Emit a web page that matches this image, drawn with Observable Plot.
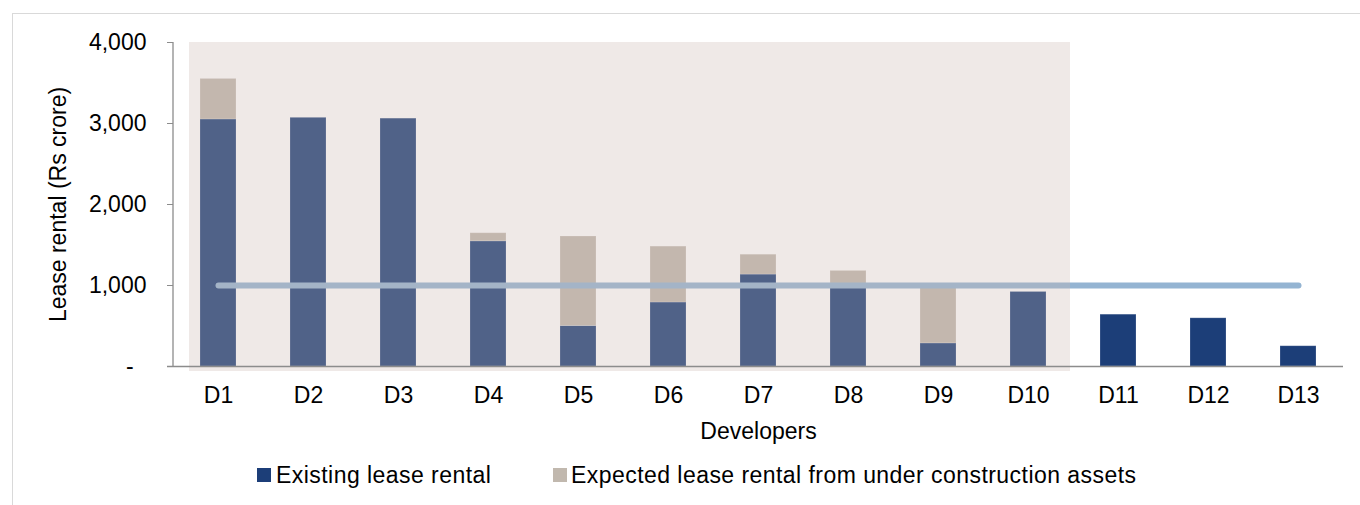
<!DOCTYPE html>
<html><head><meta charset="utf-8">
<script src="https://cdn.jsdelivr.net/npm/d3@7"></script>
<script src="https://cdn.jsdelivr.net/npm/@observablehq/plot@0.6"></script>
<style>
body{margin:0;background:#fff;font-family:"Liberation Sans",Arial,sans-serif;}
#frame{position:absolute;left:12px;top:13px;width:1360px;height:500px;border:1px solid #d9d9d9;box-sizing:border-box;}
#chart{position:absolute;left:0;top:0;}
.lg{position:absolute;font-size:23px;letter-spacing:0.45px;color:#000;white-space:nowrap;line-height:26px;}
.sw{position:absolute;width:14px;height:14px;}
</style></head>
<body>
<div id="frame"></div>
<div id="chart"></div>
<div id="legend"></div>
<script>
const developers = ["D1","D2","D3","D4","D5","D6","D7","D8","D9","D10","D11","D12","D13"];
const existing   = [3050,3070,3060,1545,500,790,1135,990,285,920,640,595,250];
const expected   = [500,0,0,100,1105,690,245,190,685,0,0,0,0];
const benchmark  = 1000;
const shadedFrom = "D1", shadedTo = "D10";
const yTicks = [0,1000,2000,3000,4000];
const seriesNames = ["Existing lease rental","Expected lease rental from under construction assets"];
const seriesColors = ["#1c3e78","#c1b8ae"];

const rows = [];
developers.forEach((d,i)=>rows.push({dev:d, series:seriesNames[0], value:existing[i], color:seriesColors[0]}));
developers.forEach((d,i)=>rows.push({dev:d, series:seriesNames[1], value:expected[i], color:seriesColors[1]}));
const lineData = developers.map(d=>({dev:d, value:benchmark}));

function shade(...args){
  const scales = args.find(a=>a && typeof a.x === "function" && typeof a.y === "function");
  const dims = args.find(a=>a && a.marginLeft !== undefined && a.width !== undefined);
  const x = scales.x, y = scales.y;
  const bw = x.bandwidth();
  const ns = "http://www.w3.org/2000/svg";
  const g = document.createElementNS(ns,"g");
  const r = document.createElementNS(ns,"rect");
  const x0 = x(shadedFrom) - 11;
  const x1 = x(shadedTo) + bw + 24;
  const y0 = y(d3.max(yTicks));
  const y1 = y(0) + 5;
  r.setAttribute("x", x0); r.setAttribute("width", x1 - x0);
  r.setAttribute("y", y0); r.setAttribute("height", y1 - y0);
  r.setAttribute("fill", "rgb(201,183,176)"); r.setAttribute("fill-opacity", "0.3");
  g.appendChild(r);
  const l = document.createElementNS(ns,"line");
  l.setAttribute("x1", dims.marginLeft); l.setAttribute("x2", dims.marginLeft);
  l.setAttribute("y1", y(d3.max(yTicks))); l.setAttribute("y2", y(0));
  l.setAttribute("stroke", "#8c8c8c"); l.setAttribute("stroke-width", "1.3");
  g.appendChild(l);
  return g;
}

const chart = Plot.plot({
  width: 1360, height: 450,
  marginLeft: 173, marginRight: 17, marginTop: 42, marginBottom: 84,
  style: {fontFamily: '"Liberation Sans", Arial, sans-serif', fontSize: "23px", color: "#000", background: "transparent"},
  x: {type: "band", domain: developers, paddingInner: 0.6, paddingOuter: 0.3},
  y: {domain: [0, 4000]},
  color: {type: "identity"},
  marks: [
    Plot.barY(rows, Plot.stackY({x: "dev", y: "value", fill: d => d.color, stroke: "#ffffff", strokeOpacity: 0.25, strokeWidth: 0.8})),
    Plot.line(lineData, {x: "dev", y: "value", stroke: "#94b4d2", strokeWidth: 6, strokeLinecap: "round"}),
    shade,
    Plot.ruleY([0], {stroke: "#8c8c8c", strokeWidth: 1.3, insetLeft: -6}),
    Plot.axisY({ticks: yTicks, tickSize: 6, tickPadding: 21, stroke: "#8c8c8c", tickFormat: d => d === 0 ? "-\u00a0\u00a0" : d3.format(",")(d), label: "Lease rental (Rs crore)", labelAnchor: "center", labelArrow: "none", labelOffset: 124}),
    Plot.axisX({tickSize: 0, tickPadding: 20, label: "Developers", labelAnchor: "center", labelArrow: "none", labelOffset: 72})
  ]
});
document.getElementById("chart").appendChild(chart);

const lg = document.getElementById("legend");
const legendPos = [{sw:257, tx:276},{sw:553, tx:571}];
seriesNames.forEach((s,i)=>{
  const sw = document.createElement("div"); sw.className="sw";
  sw.style.left = legendPos[i].sw+"px"; sw.style.top = "468px"; sw.style.background = seriesColors[i];
  lg.appendChild(sw);
  const t = document.createElement("div"); t.className="lg";
  t.style.left = legendPos[i].tx+"px"; t.style.top = "462px"; t.textContent = s;
  lg.appendChild(t);
});
</script>
</body></html>
